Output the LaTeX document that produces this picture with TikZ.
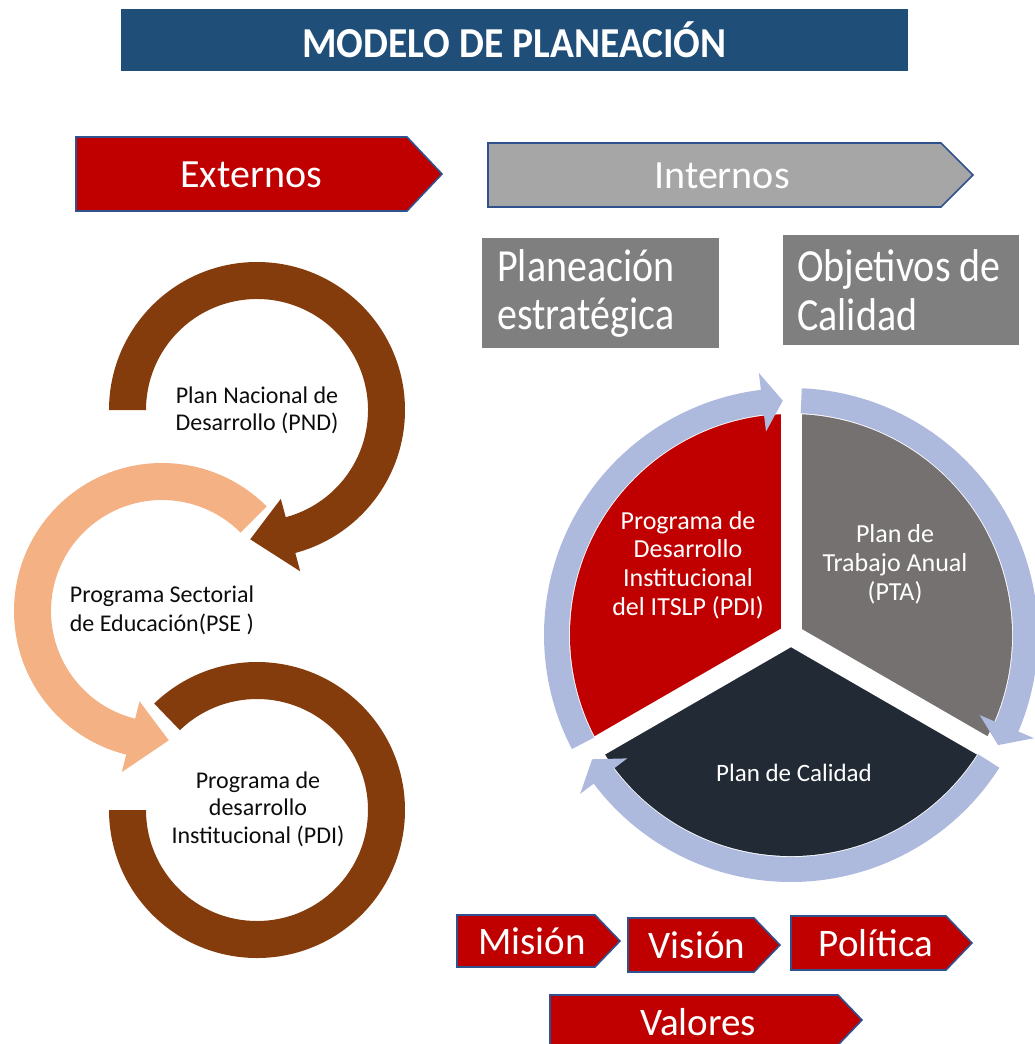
\documentclass[tikz,border=0pt]{standalone}
\usepackage{fontspec}
\setmainfont{Carlito}
\definecolor{titleblue}{HTML}{1F4E79}
\definecolor{redc}{HTML}{C00000}
\definecolor{bordblue}{HTML}{2F528F}
\definecolor{intgray}{HTML}{A6A6A6}
\definecolor{boxgray}{HTML}{7F7F7F}
\definecolor{brownc}{HTML}{843C0C}
\definecolor{peach}{HTML}{F4B183}
\definecolor{piegray}{HTML}{767171}
\definecolor{piedark}{HTML}{222A35}
\definecolor{ringblue}{RGB}{173,186,221}
\definecolor{txtdark}{HTML}{0D0D0D}
\newcommand\fs[2]{\fontsize{#1}{#2}\selectfont}
\newcommand\pentarrow[6]{\filldraw[#1] (#2,-#3) -- (#4,-#3) -- (#5,{-(#3+#6)/2}) -- (#4,-#6) -- (#2,-#6) -- cycle;}
\tikzset{
  arrowbox/.style={draw=bordblue, line width=1.6pt, line join=miter},
  whitetxt/.style={text=white, inner sep=0pt, align=center},
  darktxt/.style={text=txtdark, inner sep=0pt, align=center},
  graybox/.style={fill=boxgray, inner sep=0pt},
  graytxt/.style={text=white, inner sep=0pt, anchor=west, align=left, font=\fs{40}{42}},
}
\begin{document}
\begin{tikzpicture}[x=1pt,y=1pt]
\useasboundingbox (0,0) rectangle (1035,-1044);
% title
\node[fill=titleblue, minimum width=787pt, minimum height=62pt, inner sep=0pt] (title) at (514.5,-40) {};
\begin{scope}[shift={(title.center)}, yscale=1.08, transform shape]
  \node[text=white, inner sep=0pt, font=\bfseries\fs{39.5}{44}] (titletxt) at (0,0) {MODELO DE PLANEACIÓN};
\end{scope}
% top arrows
\pentarrow{arrowbox, fill=redc}{76}{137}{407}{442}{211}
\node[whitetxt, font=\fs{40}{48}] (ext) at (251,-175) {Externos};
\pentarrow{arrowbox, fill=intgray}{488}{143}{941}{973}{207}
\node[whitetxt, font=\fs{40}{48}] (int) at (722,-176) {Internos};
% gray boxes
\node[graybox, anchor=north west, minimum width=237pt, minimum height=110pt] (plan) at (482,-238) {};
\begin{scope}[shift={(plan.west)}, yscale=1.15, transform shape]
  \node[graytxt] (plantxt) at (15,0) {Planeación\\estratégica};
\end{scope}
\node[graybox, anchor=north west, minimum width=236pt, minimum height=110pt] (obj) at (783,-235) {};
\begin{scope}[shift={(obj.west)}, yscale=1.15, transform shape]
  \node[graytxt] (objtxt) at (14,0) {Objetivos de\\Calidad};
\end{scope}
% left circular arrows
\begin{scope}[shift={(257,-410)}]
  \fill[brownc] (180:148) arc[start angle=180,end angle=-75,radius=148pt] -- (-75:167) -- (-93:129.5)
    -- (-75:92) -- (-75:111) arc[start angle=-75,end angle=180,radius=111pt] -- cycle;
\end{scope}
\begin{scope}[shift={(162,-611)}]
  \fill[peach] (45:148) arc[start angle=45,end angle=256,radius=148pt] -- (256:166) -- (273:129.5)
    -- (256:93) -- (256:111) arc[start angle=256,end angle=45,radius=111pt] -- cycle;
\end{scope}
\begin{scope}[shift={(257,-810)}]
  \fill[brownc] (134:148) arc[start angle=134,end angle=-180,radius=148pt] -- (180:111)
    arc[start angle=-180,end angle=134,radius=111pt] -- cycle;
\end{scope}
\node[darktxt, font=\fs{24}{27}] (pnd) at (257,-410) {Plan Nacional de\\Desarrollo (PND)};
\node[darktxt, font=\fs{24}{29}, align=left] (pse) at (162,-610) {Programa Sectorial\\de Educación(PSE )};
\node[darktxt, font=\fs{24}{27.5}] (pdi) at (258,-809) {Programa de\\desarrollo\\Institucional (PDI)};
% segmented cycle
\begin{scope}[shift={(791,-635)}]
  \fill[redc] (0,0) -- (90:221) arc[start angle=90,end angle=210,radius=221pt] -- cycle;
  \fill[piegray] (0,0) -- (-30:221) arc[start angle=-30,end angle=90,radius=221pt] -- cycle;
  \fill[piedark] (0,0) -- (210:221) arc[start angle=210,end angle=330,radius=221pt] -- cycle;
  \foreach \a in {90,210,330} \draw[white, line width=21pt] (0,0) -- (\a:224);
  \foreach \r in {0,120,240}
    \fill[ringblue, rotate=-\r] (207.5:247) arc[start angle=207.5,end angle=97,radius=247pt]
      -- (97:264) -- (92:234.5) -- (97:205) -- (97:222)
      arc[start angle=97,end angle=207.5,radius=222pt] -- cycle;
\end{scope}
\node[whitetxt, font=\fs{26}{28.7}] (pdiitslp) at (688,-565) {Programa de\\Desarrollo\\Institucional\\del ITSLP (PDI)};
\node[whitetxt, font=\fs{26}{29}] (pta) at (895,-564) {Plan de\\Trabajo Anual\\(PTA)};
\node[whitetxt, font=\fs{25}{30}] (calidad) at (794,-773) {Plan de Calidad};
% bottom arrows
\pentarrow{arrowbox, fill=redc}{457}{915}{595}{620}{967}
\node[whitetxt, font=\fs{39}{46}] (mision) at (532,-941) {Misión};
\pentarrow{arrowbox, fill=redc}{628}{918}{754}{780}{972}
\node[whitetxt, font=\fs{39}{46}] (vision) at (697,-945) {Visión};
\pentarrow{arrowbox, fill=redc}{791}{916}{946}{972}{970}
\node[whitetxt, font=\fs{39}{46}] (politica) at (876,-943) {Política};
\pentarrow{arrowbox, fill=redc}{550}{995}{838}{862}{1045}
\node[whitetxt, font=\fs{39}{46}] (valores) at (698,-1022) {Valores};
\end{tikzpicture}
\end{document}
